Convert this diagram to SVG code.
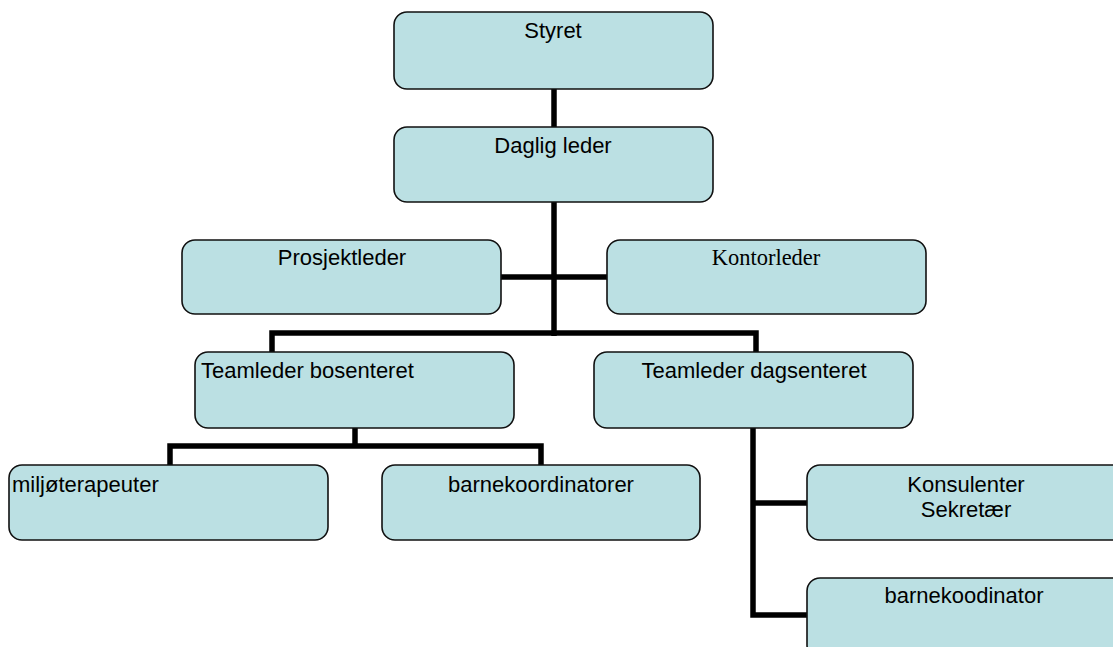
<svg xmlns="http://www.w3.org/2000/svg" width="1113" height="647" viewBox="0 0 1113 647">
<style>
.box{fill:#bbe0e3;stroke:#111;stroke-width:1.6}
.t{font-family:"Liberation Sans",Arial,sans-serif;font-size:22px;fill:#000}
.ts{font-family:"Liberation Serif","Times New Roman",serif;font-size:22.5px;fill:#000}
.c{text-anchor:middle}
.conn{fill:none;stroke:#000;stroke-width:5.5;stroke-linecap:butt;stroke-linejoin:miter}
</style>
<rect width="1113" height="647" fill="#fff"/>
<g id="connectors">
<line class="conn" x1="554" y1="89" x2="554" y2="127"/>
<line class="conn" x1="554" y1="202" x2="554" y2="336"/>
<line class="conn" x1="501" y1="277" x2="607" y2="277"/>
<path class="conn" d="M272 352 V333 H756 V352"/>
<line class="conn" x1="355" y1="428" x2="355" y2="446"/>
<path class="conn" d="M170 465 V446 H541 V465"/>
<path class="conn" d="M753 428 V615 H807"/>
<line class="conn" x1="753" y1="503" x2="807" y2="503"/>
</g>
<g id="styret"><rect class="box" x="394" y="12" width="319" height="77" rx="13"/><text class="t c" x="553" y="38">Styret</text></g>
<g id="daglig-leder"><rect class="box" x="394" y="127" width="319" height="75" rx="13"/><text class="t c" x="553" y="153">Daglig leder</text></g>
<g id="prosjektleder"><rect class="box" x="182" y="240" width="319" height="74" rx="13"/><text class="t c" x="342" y="265">Prosjektleder</text></g>
<g id="kontorleder"><rect class="box" x="607" y="240" width="319" height="74" rx="13"/><text class="ts c" x="766" y="265">Kontorleder</text></g>
<g id="teamleder-bosenteret"><rect class="box" x="195" y="352" width="319" height="76" rx="13"/><text class="t" x="201" y="378">Teamleder bosenteret</text></g>
<g id="teamleder-dagsenteret"><rect class="box" x="594" y="352" width="319" height="76" rx="13"/><text class="t c" x="754" y="378">Teamleder dagsenteret</text></g>
<g id="miljoterapeuter"><rect class="box" x="9" y="465" width="319" height="75" rx="13"/><text class="t" x="12" y="492">miljøterapeuter</text></g>
<g id="barnekoordinatorer"><rect class="box" x="382" y="465" width="318" height="75" rx="13"/><text class="t c" x="541" y="492">barnekoordinatorer</text></g>
<g id="konsulenter"><rect class="box" x="807" y="465" width="319" height="75" rx="13"/><text class="t c" x="966" y="492">Konsulenter</text><text class="t c" x="966" y="517">Sekretær</text></g>
<g id="barnekoodinator"><rect class="box" x="807" y="578" width="319" height="80" rx="13"/><text class="t c" x="964" y="603">barnekoodinator</text></g>
</svg>
